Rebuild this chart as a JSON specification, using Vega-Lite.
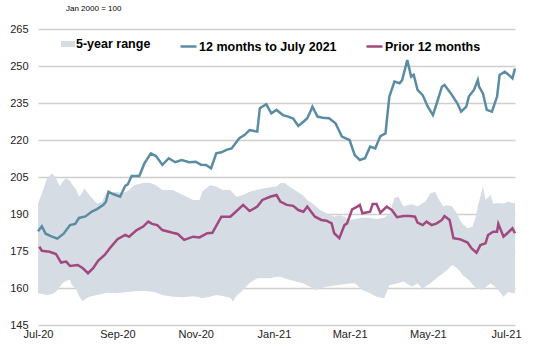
{
  "$schema": "https://vega.github.io/schema/vega-lite/v6.json",
  "width": 477,
  "height": 296,
  "autosize": {"type": "none"},
  "padding": {"left": 38, "top": 29, "right": 18, "bottom": 23},
  "background": "white",
  "title": {"text": "Jan 2000 = 100", "anchor": "start", "frame": "group", "dx": 28, "fontSize": 8, "fontWeight": "normal", "font": "Liberation Sans", "color": "#000000", "offset": 10},
  "config": {"view": {"stroke": null}, "font": "Liberation Sans"},
  "datasets": {
    "band": [
      {"date": "2020-07-01", "hi": 194.3, "lo": 157.9, "range": "5-year range"},
      {"date": "2020-07-05", "hi": 199.7, "lo": 157.5, "range": "5-year range"},
      {"date": "2020-07-08", "hi": 204.5, "lo": 157.2, "range": "5-year range"},
      {"date": "2020-07-12", "hi": 206.5, "lo": 157.6, "range": "5-year range"},
      {"date": "2020-07-15", "hi": 204.5, "lo": 158.5, "range": "5-year range"},
      {"date": "2020-07-18", "hi": 201.1, "lo": 160.5, "range": "5-year range"},
      {"date": "2020-07-20", "hi": 203.0, "lo": 161.9, "range": "5-year range"},
      {"date": "2020-07-23", "hi": 204.5, "lo": 162.8, "range": "5-year range"},
      {"date": "2020-07-26", "hi": 203.5, "lo": 163.3, "range": "5-year range"},
      {"date": "2020-07-27", "hi": 202.5, "lo": 161.5, "range": "5-year range"},
      {"date": "2020-07-31", "hi": 199.7, "lo": 159.2, "range": "5-year range"},
      {"date": "2020-08-02", "hi": 197.0, "lo": 156.8, "range": "5-year range"},
      {"date": "2020-08-05", "hi": 199.0, "lo": 154.5, "range": "5-year range"},
      {"date": "2020-08-06", "hi": 200.4, "lo": 155.2, "range": "5-year range"},
      {"date": "2020-08-10", "hi": 197.7, "lo": 156.5, "range": "5-year range"},
      {"date": "2020-08-16", "hi": 194.3, "lo": 157.2, "range": "5-year range"},
      {"date": "2020-08-20", "hi": 195.0, "lo": 157.6, "range": "5-year range"},
      {"date": "2020-08-23", "hi": 198.4, "lo": 158.1, "range": "5-year range"},
      {"date": "2020-08-31", "hi": 199.0, "lo": 157.9, "range": "5-year range"},
      {"date": "2020-09-05", "hi": 198.4, "lo": 158.2, "range": "5-year range"},
      {"date": "2020-09-10", "hi": 199.7, "lo": 158.5, "range": "5-year range"},
      {"date": "2020-09-14", "hi": 201.7, "lo": 158.7, "range": "5-year range"},
      {"date": "2020-09-21", "hi": 202.7, "lo": 158.9, "range": "5-year range"},
      {"date": "2020-09-26", "hi": 202.7, "lo": 158.6, "range": "5-year range"},
      {"date": "2020-10-01", "hi": 201.7, "lo": 158.2, "range": "5-year range"},
      {"date": "2020-10-06", "hi": 199.7, "lo": 157.2, "range": "5-year range"},
      {"date": "2020-10-14", "hi": 199.7, "lo": 156.5, "range": "5-year range"},
      {"date": "2020-10-22", "hi": 197.7, "lo": 156.3, "range": "5-year range"},
      {"date": "2020-10-30", "hi": 195.7, "lo": 156.7, "range": "5-year range"},
      {"date": "2020-11-04", "hi": 195.7, "lo": 156.2, "range": "5-year range"},
      {"date": "2020-11-06", "hi": 199.0, "lo": 155.8, "range": "5-year range"},
      {"date": "2020-11-12", "hi": 201.7, "lo": 156.5, "range": "5-year range"},
      {"date": "2020-11-17", "hi": 201.1, "lo": 157.2, "range": "5-year range"},
      {"date": "2020-11-22", "hi": 199.7, "lo": 156.8, "range": "5-year range"},
      {"date": "2020-11-28", "hi": 199.7, "lo": 156.0, "range": "5-year range"},
      {"date": "2020-11-30", "hi": 198.5, "lo": 154.5, "range": "5-year range"},
      {"date": "2020-12-03", "hi": 197.0, "lo": 157.0, "range": "5-year range"},
      {"date": "2020-12-08", "hi": 197.7, "lo": 159.2, "range": "5-year range"},
      {"date": "2020-12-13", "hi": 199.0, "lo": 162.0, "range": "5-year range"},
      {"date": "2020-12-19", "hi": 199.8, "lo": 164.0, "range": "5-year range"},
      {"date": "2020-12-21", "hi": 200.0, "lo": 164.0, "range": "5-year range"},
      {"date": "2020-12-26", "hi": 200.5, "lo": 164.0, "range": "5-year range"},
      {"date": "2020-12-29", "hi": 200.8, "lo": 164.0, "range": "5-year range"},
      {"date": "2021-01-03", "hi": 201.1, "lo": 164.6, "range": "5-year range"},
      {"date": "2021-01-06", "hi": 202.5, "lo": 164.6, "range": "5-year range"},
      {"date": "2021-01-09", "hi": 202.7, "lo": 164.0, "range": "5-year range"},
      {"date": "2021-01-13", "hi": 201.1, "lo": 163.3, "range": "5-year range"},
      {"date": "2021-01-21", "hi": 198.4, "lo": 162.2, "range": "5-year range"},
      {"date": "2021-01-24", "hi": 197.5, "lo": 161.9, "range": "5-year range"},
      {"date": "2021-01-27", "hi": 195.7, "lo": 161.0, "range": "5-year range"},
      {"date": "2021-01-31", "hi": 194.3, "lo": 160.0, "range": "5-year range"},
      {"date": "2021-02-03", "hi": 193.0, "lo": 159.2, "range": "5-year range"},
      {"date": "2021-02-06", "hi": 191.6, "lo": 159.8, "range": "5-year range"},
      {"date": "2021-02-11", "hi": 190.3, "lo": 160.5, "range": "5-year range"},
      {"date": "2021-02-17", "hi": 188.9, "lo": 161.0, "range": "5-year range"},
      {"date": "2021-02-21", "hi": 189.6, "lo": 161.3, "range": "5-year range"},
      {"date": "2021-02-25", "hi": 188.9, "lo": 161.5, "range": "5-year range"},
      {"date": "2021-03-01", "hi": 187.5, "lo": 161.8, "range": "5-year range"},
      {"date": "2021-03-05", "hi": 188.0, "lo": 161.9, "range": "5-year range"},
      {"date": "2021-03-11", "hi": 188.5, "lo": 159.2, "range": "5-year range"},
      {"date": "2021-03-17", "hi": 188.5, "lo": 157.9, "range": "5-year range"},
      {"date": "2021-03-22", "hi": 188.0, "lo": 156.5, "range": "5-year range"},
      {"date": "2021-03-28", "hi": 188.5, "lo": 155.8, "range": "5-year range"},
      {"date": "2021-04-01", "hi": 190.0, "lo": 161.1, "range": "5-year range"},
      {"date": "2021-04-05", "hi": 196.5, "lo": 161.6, "range": "5-year range"},
      {"date": "2021-04-08", "hi": 197.0, "lo": 161.9, "range": "5-year range"},
      {"date": "2021-04-12", "hi": 193.0, "lo": 162.6, "range": "5-year range"},
      {"date": "2021-04-17", "hi": 193.7, "lo": 161.0, "range": "5-year range"},
      {"date": "2021-04-19", "hi": 194.0, "lo": 160.5, "range": "5-year range"},
      {"date": "2021-04-23", "hi": 193.0, "lo": 161.9, "range": "5-year range"},
      {"date": "2021-04-27", "hi": 194.5, "lo": 159.5, "range": "5-year range"},
      {"date": "2021-04-29", "hi": 195.0, "lo": 160.5, "range": "5-year range"},
      {"date": "2021-05-03", "hi": 198.4, "lo": 161.9, "range": "5-year range"},
      {"date": "2021-05-07", "hi": 199.0, "lo": 163.5, "range": "5-year range"},
      {"date": "2021-05-09", "hi": 196.4, "lo": 164.6, "range": "5-year range"},
      {"date": "2021-05-13", "hi": 193.0, "lo": 166.0, "range": "5-year range"},
      {"date": "2021-05-16", "hi": 193.5, "lo": 167.3, "range": "5-year range"},
      {"date": "2021-05-20", "hi": 193.0, "lo": 169.3, "range": "5-year range"},
      {"date": "2021-05-24", "hi": 190.0, "lo": 168.0, "range": "5-year range"},
      {"date": "2021-05-26", "hi": 187.6, "lo": 166.8, "range": "5-year range"},
      {"date": "2021-05-28", "hi": 186.0, "lo": 165.3, "range": "5-year range"},
      {"date": "2021-06-01", "hi": 184.2, "lo": 163.8, "range": "5-year range"},
      {"date": "2021-06-03", "hi": 184.5, "lo": 162.6, "range": "5-year range"},
      {"date": "2021-06-05", "hi": 184.9, "lo": 161.3, "range": "5-year range"},
      {"date": "2021-06-08", "hi": 190.0, "lo": 159.9, "range": "5-year range"},
      {"date": "2021-06-09", "hi": 193.0, "lo": 159.7, "range": "5-year range"},
      {"date": "2021-06-13", "hi": 201.1, "lo": 159.2, "range": "5-year range"},
      {"date": "2021-06-15", "hi": 195.7, "lo": 160.3, "range": "5-year range"},
      {"date": "2021-06-19", "hi": 197.7, "lo": 161.9, "range": "5-year range"},
      {"date": "2021-06-21", "hi": 194.1, "lo": 161.0, "range": "5-year range"},
      {"date": "2021-06-24", "hi": 194.5, "lo": 159.9, "range": "5-year range"},
      {"date": "2021-06-29", "hi": 194.3, "lo": 156.5, "range": "5-year range"},
      {"date": "2021-07-03", "hi": 195.0, "lo": 158.5, "range": "5-year range"},
      {"date": "2021-07-06", "hi": 194.5, "lo": 157.9, "range": "5-year range"},
      {"date": "2021-07-08", "hi": 194.5, "lo": 158.0, "range": "5-year range"}
    ],
    "lines": [
      {"date": "2020-07-01", "value": 183.0, "series": "12 months to July 2021"},
      {"date": "2020-07-04", "value": 185.0, "series": "12 months to July 2021"},
      {"date": "2020-07-07", "value": 182.0, "series": "12 months to July 2021"},
      {"date": "2020-07-11", "value": 181.0, "series": "12 months to July 2021"},
      {"date": "2020-07-16", "value": 180.0, "series": "12 months to July 2021"},
      {"date": "2020-07-21", "value": 182.0, "series": "12 months to July 2021"},
      {"date": "2020-07-26", "value": 185.5, "series": "12 months to July 2021"},
      {"date": "2020-07-30", "value": 186.0, "series": "12 months to July 2021"},
      {"date": "2020-08-02", "value": 188.4, "series": "12 months to July 2021"},
      {"date": "2020-08-07", "value": 189.0, "series": "12 months to July 2021"},
      {"date": "2020-08-12", "value": 191.0, "series": "12 months to July 2021"},
      {"date": "2020-08-16", "value": 192.0, "series": "12 months to July 2021"},
      {"date": "2020-08-21", "value": 193.7, "series": "12 months to July 2021"},
      {"date": "2020-08-23", "value": 195.0, "series": "12 months to July 2021"},
      {"date": "2020-08-25", "value": 199.0, "series": "12 months to July 2021"},
      {"date": "2020-08-29", "value": 198.0, "series": "12 months to July 2021"},
      {"date": "2020-09-03", "value": 197.0, "series": "12 months to July 2021"},
      {"date": "2020-09-07", "value": 201.4, "series": "12 months to July 2021"},
      {"date": "2020-09-09", "value": 202.0, "series": "12 months to July 2021"},
      {"date": "2020-09-12", "value": 205.4, "series": "12 months to July 2021"},
      {"date": "2020-09-18", "value": 205.4, "series": "12 months to July 2021"},
      {"date": "2020-09-22", "value": 210.5, "series": "12 months to July 2021"},
      {"date": "2020-09-27", "value": 214.6, "series": "12 months to July 2021"},
      {"date": "2020-10-01", "value": 213.5, "series": "12 months to July 2021"},
      {"date": "2020-10-06", "value": 209.9, "series": "12 months to July 2021"},
      {"date": "2020-10-11", "value": 212.6, "series": "12 months to July 2021"},
      {"date": "2020-10-16", "value": 211.0, "series": "12 months to July 2021"},
      {"date": "2020-10-21", "value": 211.9, "series": "12 months to July 2021"},
      {"date": "2020-10-27", "value": 211.0, "series": "12 months to July 2021"},
      {"date": "2020-11-01", "value": 211.2, "series": "12 months to July 2021"},
      {"date": "2020-11-05", "value": 210.0, "series": "12 months to July 2021"},
      {"date": "2020-11-09", "value": 209.9, "series": "12 months to July 2021"},
      {"date": "2020-11-13", "value": 208.5, "series": "12 months to July 2021"},
      {"date": "2020-11-17", "value": 214.6, "series": "12 months to July 2021"},
      {"date": "2020-11-21", "value": 215.0, "series": "12 months to July 2021"},
      {"date": "2020-11-25", "value": 216.0, "series": "12 months to July 2021"},
      {"date": "2020-11-29", "value": 216.6, "series": "12 months to July 2021"},
      {"date": "2020-12-05", "value": 220.7, "series": "12 months to July 2021"},
      {"date": "2020-12-09", "value": 222.0, "series": "12 months to July 2021"},
      {"date": "2020-12-13", "value": 224.0, "series": "12 months to July 2021"},
      {"date": "2020-12-19", "value": 223.4, "series": "12 months to July 2021"},
      {"date": "2020-12-21", "value": 232.9, "series": "12 months to July 2021"},
      {"date": "2020-12-26", "value": 234.5, "series": "12 months to July 2021"},
      {"date": "2020-12-30", "value": 230.8, "series": "12 months to July 2021"},
      {"date": "2021-01-03", "value": 232.2, "series": "12 months to July 2021"},
      {"date": "2021-01-08", "value": 230.1, "series": "12 months to July 2021"},
      {"date": "2021-01-12", "value": 229.5, "series": "12 months to July 2021"},
      {"date": "2021-01-16", "value": 228.7, "series": "12 months to July 2021"},
      {"date": "2021-01-20", "value": 225.7, "series": "12 months to July 2021"},
      {"date": "2021-01-24", "value": 227.4, "series": "12 months to July 2021"},
      {"date": "2021-01-27", "value": 228.8, "series": "12 months to July 2021"},
      {"date": "2021-01-29", "value": 231.0, "series": "12 months to July 2021"},
      {"date": "2021-01-31", "value": 233.5, "series": "12 months to July 2021"},
      {"date": "2021-02-04", "value": 229.5, "series": "12 months to July 2021"},
      {"date": "2021-02-08", "value": 229.0, "series": "12 months to July 2021"},
      {"date": "2021-02-13", "value": 228.8, "series": "12 months to July 2021"},
      {"date": "2021-02-18", "value": 226.8, "series": "12 months to July 2021"},
      {"date": "2021-02-23", "value": 221.4, "series": "12 months to July 2021"},
      {"date": "2021-03-01", "value": 220.0, "series": "12 months to July 2021"},
      {"date": "2021-03-05", "value": 213.9, "series": "12 months to July 2021"},
      {"date": "2021-03-09", "value": 211.9, "series": "12 months to July 2021"},
      {"date": "2021-03-13", "value": 212.6, "series": "12 months to July 2021"},
      {"date": "2021-03-17", "value": 217.3, "series": "12 months to July 2021"},
      {"date": "2021-03-21", "value": 216.6, "series": "12 months to July 2021"},
      {"date": "2021-03-25", "value": 221.6, "series": "12 months to July 2021"},
      {"date": "2021-03-29", "value": 222.7, "series": "12 months to July 2021"},
      {"date": "2021-04-01", "value": 237.6, "series": "12 months to July 2021"},
      {"date": "2021-04-05", "value": 243.7, "series": "12 months to July 2021"},
      {"date": "2021-04-09", "value": 243.0, "series": "12 months to July 2021"},
      {"date": "2021-04-11", "value": 244.3, "series": "12 months to July 2021"},
      {"date": "2021-04-15", "value": 252.4, "series": "12 months to July 2021"},
      {"date": "2021-04-18", "value": 245.7, "series": "12 months to July 2021"},
      {"date": "2021-04-20", "value": 246.4, "series": "12 months to July 2021"},
      {"date": "2021-04-23", "value": 240.3, "series": "12 months to July 2021"},
      {"date": "2021-04-27", "value": 238.2, "series": "12 months to July 2021"},
      {"date": "2021-05-01", "value": 233.5, "series": "12 months to July 2021"},
      {"date": "2021-05-05", "value": 230.1, "series": "12 months to July 2021"},
      {"date": "2021-05-08", "value": 234.9, "series": "12 months to July 2021"},
      {"date": "2021-05-12", "value": 241.6, "series": "12 months to July 2021"},
      {"date": "2021-05-14", "value": 242.3, "series": "12 months to July 2021"},
      {"date": "2021-05-19", "value": 238.9, "series": "12 months to July 2021"},
      {"date": "2021-05-24", "value": 234.9, "series": "12 months to July 2021"},
      {"date": "2021-05-27", "value": 231.5, "series": "12 months to July 2021"},
      {"date": "2021-05-31", "value": 233.5, "series": "12 months to July 2021"},
      {"date": "2021-06-02", "value": 237.6, "series": "12 months to July 2021"},
      {"date": "2021-06-06", "value": 240.3, "series": "12 months to July 2021"},
      {"date": "2021-06-09", "value": 244.3, "series": "12 months to July 2021"},
      {"date": "2021-06-10", "value": 241.6, "series": "12 months to July 2021"},
      {"date": "2021-06-13", "value": 238.9, "series": "12 months to July 2021"},
      {"date": "2021-06-16", "value": 232.2, "series": "12 months to July 2021"},
      {"date": "2021-06-20", "value": 231.5, "series": "12 months to July 2021"},
      {"date": "2021-06-24", "value": 237.6, "series": "12 months to July 2021"},
      {"date": "2021-06-26", "value": 246.4, "series": "12 months to July 2021"},
      {"date": "2021-06-30", "value": 247.7, "series": "12 months to July 2021"},
      {"date": "2021-07-04", "value": 246.0, "series": "12 months to July 2021"},
      {"date": "2021-07-06", "value": 245.0, "series": "12 months to July 2021"},
      {"date": "2021-07-08", "value": 249.0, "series": "12 months to July 2021"},
      {"date": "2020-07-02", "value": 176.8, "series": "Prior 12 months"},
      {"date": "2020-07-04", "value": 175.1, "series": "Prior 12 months"},
      {"date": "2020-07-10", "value": 174.7, "series": "Prior 12 months"},
      {"date": "2020-07-15", "value": 173.8, "series": "Prior 12 months"},
      {"date": "2020-07-19", "value": 170.3, "series": "Prior 12 months"},
      {"date": "2020-07-23", "value": 170.7, "series": "Prior 12 months"},
      {"date": "2020-07-26", "value": 168.9, "series": "Prior 12 months"},
      {"date": "2020-08-01", "value": 169.3, "series": "Prior 12 months"},
      {"date": "2020-08-05", "value": 168.0, "series": "Prior 12 months"},
      {"date": "2020-08-09", "value": 166.0, "series": "Prior 12 months"},
      {"date": "2020-08-13", "value": 168.0, "series": "Prior 12 months"},
      {"date": "2020-08-17", "value": 171.1, "series": "Prior 12 months"},
      {"date": "2020-08-22", "value": 173.4, "series": "Prior 12 months"},
      {"date": "2020-08-26", "value": 176.1, "series": "Prior 12 months"},
      {"date": "2020-09-01", "value": 179.8, "series": "Prior 12 months"},
      {"date": "2020-09-07", "value": 181.5, "series": "Prior 12 months"},
      {"date": "2020-09-10", "value": 180.8, "series": "Prior 12 months"},
      {"date": "2020-09-16", "value": 183.5, "series": "Prior 12 months"},
      {"date": "2020-09-21", "value": 184.9, "series": "Prior 12 months"},
      {"date": "2020-09-25", "value": 186.9, "series": "Prior 12 months"},
      {"date": "2020-09-28", "value": 186.0, "series": "Prior 12 months"},
      {"date": "2020-10-02", "value": 185.5, "series": "Prior 12 months"},
      {"date": "2020-10-06", "value": 183.5, "series": "Prior 12 months"},
      {"date": "2020-10-14", "value": 182.4, "series": "Prior 12 months"},
      {"date": "2020-10-18", "value": 181.9, "series": "Prior 12 months"},
      {"date": "2020-10-23", "value": 179.5, "series": "Prior 12 months"},
      {"date": "2020-10-30", "value": 180.8, "series": "Prior 12 months"},
      {"date": "2020-11-04", "value": 180.5, "series": "Prior 12 months"},
      {"date": "2020-11-10", "value": 182.2, "series": "Prior 12 months"},
      {"date": "2020-11-14", "value": 182.4, "series": "Prior 12 months"},
      {"date": "2020-11-21", "value": 188.9, "series": "Prior 12 months"},
      {"date": "2020-11-28", "value": 188.9, "series": "Prior 12 months"},
      {"date": "2020-12-01", "value": 190.3, "series": "Prior 12 months"},
      {"date": "2020-12-08", "value": 193.7, "series": "Prior 12 months"},
      {"date": "2020-12-13", "value": 191.2, "series": "Prior 12 months"},
      {"date": "2020-12-19", "value": 193.0, "series": "Prior 12 months"},
      {"date": "2020-12-23", "value": 195.7, "series": "Prior 12 months"},
      {"date": "2020-12-29", "value": 197.0, "series": "Prior 12 months"},
      {"date": "2021-01-03", "value": 197.7, "series": "Prior 12 months"},
      {"date": "2021-01-06", "value": 195.0, "series": "Prior 12 months"},
      {"date": "2021-01-11", "value": 193.7, "series": "Prior 12 months"},
      {"date": "2021-01-16", "value": 193.3, "series": "Prior 12 months"},
      {"date": "2021-01-20", "value": 191.6, "series": "Prior 12 months"},
      {"date": "2021-01-24", "value": 190.9, "series": "Prior 12 months"},
      {"date": "2021-01-27", "value": 193.0, "series": "Prior 12 months"},
      {"date": "2021-01-30", "value": 190.9, "series": "Prior 12 months"},
      {"date": "2021-02-02", "value": 188.9, "series": "Prior 12 months"},
      {"date": "2021-02-07", "value": 187.6, "series": "Prior 12 months"},
      {"date": "2021-02-11", "value": 187.3, "series": "Prior 12 months"},
      {"date": "2021-02-15", "value": 186.2, "series": "Prior 12 months"},
      {"date": "2021-02-17", "value": 182.2, "series": "Prior 12 months"},
      {"date": "2021-02-21", "value": 180.2, "series": "Prior 12 months"},
      {"date": "2021-02-25", "value": 185.5, "series": "Prior 12 months"},
      {"date": "2021-02-27", "value": 186.2, "series": "Prior 12 months"},
      {"date": "2021-03-03", "value": 191.9, "series": "Prior 12 months"},
      {"date": "2021-03-07", "value": 193.0, "series": "Prior 12 months"},
      {"date": "2021-03-09", "value": 193.7, "series": "Prior 12 months"},
      {"date": "2021-03-11", "value": 190.3, "series": "Prior 12 months"},
      {"date": "2021-03-17", "value": 190.9, "series": "Prior 12 months"},
      {"date": "2021-03-19", "value": 194.1, "series": "Prior 12 months"},
      {"date": "2021-03-22", "value": 194.1, "series": "Prior 12 months"},
      {"date": "2021-03-25", "value": 190.5, "series": "Prior 12 months"},
      {"date": "2021-03-30", "value": 193.0, "series": "Prior 12 months"},
      {"date": "2021-04-03", "value": 191.6, "series": "Prior 12 months"},
      {"date": "2021-04-07", "value": 188.7, "series": "Prior 12 months"},
      {"date": "2021-04-12", "value": 189.2, "series": "Prior 12 months"},
      {"date": "2021-04-17", "value": 189.2, "series": "Prior 12 months"},
      {"date": "2021-04-21", "value": 188.9, "series": "Prior 12 months"},
      {"date": "2021-04-23", "value": 186.5, "series": "Prior 12 months"},
      {"date": "2021-04-27", "value": 185.5, "series": "Prior 12 months"},
      {"date": "2021-04-30", "value": 186.9, "series": "Prior 12 months"},
      {"date": "2021-05-04", "value": 185.5, "series": "Prior 12 months"},
      {"date": "2021-05-08", "value": 186.2, "series": "Prior 12 months"},
      {"date": "2021-05-12", "value": 187.6, "series": "Prior 12 months"},
      {"date": "2021-05-14", "value": 189.2, "series": "Prior 12 months"},
      {"date": "2021-05-18", "value": 187.6, "series": "Prior 12 months"},
      {"date": "2021-05-21", "value": 180.2, "series": "Prior 12 months"},
      {"date": "2021-05-26", "value": 179.8, "series": "Prior 12 months"},
      {"date": "2021-06-01", "value": 178.4, "series": "Prior 12 months"},
      {"date": "2021-06-04", "value": 176.1, "series": "Prior 12 months"},
      {"date": "2021-06-08", "value": 174.3, "series": "Prior 12 months"},
      {"date": "2021-06-11", "value": 177.4, "series": "Prior 12 months"},
      {"date": "2021-06-15", "value": 178.1, "series": "Prior 12 months"},
      {"date": "2021-06-17", "value": 181.5, "series": "Prior 12 months"},
      {"date": "2021-06-21", "value": 182.8, "series": "Prior 12 months"},
      {"date": "2021-06-24", "value": 182.8, "series": "Prior 12 months"},
      {"date": "2021-06-25", "value": 186.0, "series": "Prior 12 months"},
      {"date": "2021-06-29", "value": 180.8, "series": "Prior 12 months"},
      {"date": "2021-07-02", "value": 182.2, "series": "Prior 12 months"},
      {"date": "2021-07-06", "value": 184.2, "series": "Prior 12 months"},
      {"date": "2021-07-08", "value": 182.2, "series": "Prior 12 months"}
    ]
  },
  "layer": [
    {
      "data": {"name": "band"},
      "mark": {"type": "area", "opacity": 1},
      "encoding": {
        "x": {
          "field": "date", "type": "temporal",
          "scale": {"type": "utc", "domain": [{"year": 2020, "month": 7, "date": 1, "utc": true}, {"year": 2021, "month": 7, "date": 8, "utc": true}]},
          "axis": {
            "title": null,
            "values": [
              {"year": 2020, "month": 7, "date": 1, "utc": true},
              {"year": 2020, "month": 9, "date": 1, "utc": true},
              {"year": 2020, "month": 11, "date": 1, "utc": true},
              {"year": 2021, "month": 1, "date": 1, "utc": true},
              {"year": 2021, "month": 3, "date": 1, "utc": true},
              {"year": 2021, "month": 5, "date": 1, "utc": true},
              {"year": 2021, "month": 7, "date": 1, "utc": true}
            ],
            "format": "%b-%y",
            "grid": false, "domain": false, "ticks": false,
            "labelPadding": 3, "labelFontSize": 11, "labelFont": "Liberation Sans",
            "labelColor": "#222222", "labelOverlap": false, "labelFlush": false
          }
        },
        "y": {
          "field": "lo", "type": "quantitative",
          "scale": {"domain": [145, 265], "nice": false, "zero": false},
          "axis": {
            "title": null,
            "values": [145, 160, 175, 190, 205, 220, 235, 250, 265],
            "grid": true, "gridColor": "#CFCFCF", "gridWidth": 1.5,
            "domain": false, "ticks": false, "labelPadding": 10, "labelOverlap": false,
            "labelFontSize": 11, "labelFont": "Liberation Sans", "labelColor": "#222222"
          }
        },
        "y2": {"field": "hi"},
        "fill": {
          "field": "range", "type": "nominal",
          "scale": {"domain": ["5-year range"], "range": ["#D6DCE4"]},
          "legend": {
            "orient": "none", "legendX": 23, "legendY": 8, "direction": "horizontal",
            "title": null, "padding": 0,
            "symbolType": "M-1,-0.43H1V0.43H-1Z", "symbolSize": 196, "symbolStrokeWidth": 0,
            "labelFontSize": 12.5, "labelFontWeight": "bold", "labelFont": "Liberation Sans",
            "labelColor": "#000000", "labelOffset": 1, "labelLimit": 300
          }
        }
      }
    },
    {
      "data": {"name": "lines"},
      "mark": {"type": "line", "strokeWidth": 2.5},
      "encoding": {
        "x": {
          "field": "date", "type": "temporal",
          "axis": {
            "title": null,
            "values": [
              {"year": 2020, "month": 7, "date": 1, "utc": true},
              {"year": 2020, "month": 9, "date": 1, "utc": true},
              {"year": 2020, "month": 11, "date": 1, "utc": true},
              {"year": 2021, "month": 1, "date": 1, "utc": true},
              {"year": 2021, "month": 3, "date": 1, "utc": true},
              {"year": 2021, "month": 5, "date": 1, "utc": true},
              {"year": 2021, "month": 7, "date": 1, "utc": true}
            ],
            "format": "%b-%y",
            "grid": false, "domain": false, "ticks": false,
            "labelPadding": 3, "labelFontSize": 11, "labelFont": "Liberation Sans",
            "labelColor": "#222222", "labelOverlap": false, "labelFlush": false
          }
        },
        "y": {
          "field": "value", "type": "quantitative",
          "axis": {
            "title": null,
            "values": [145, 160, 175, 190, 205, 220, 235, 250, 265],
            "grid": true, "gridColor": "#CFCFCF", "gridWidth": 1.5,
            "domain": false, "ticks": false, "labelPadding": 10, "labelOverlap": false,
            "labelFontSize": 11, "labelFont": "Liberation Sans", "labelColor": "#222222"
          }
        },
        "stroke": {
          "field": "series", "type": "nominal",
          "scale": {"domain": ["12 months to July 2021", "Prior 12 months"], "range": ["#5A8CA3", "#A0487F"]},
          "legend": {
            "orient": "none", "legendX": 141, "legendY": 8, "direction": "horizontal",
            "title": null, "padding": 0, "columnPadding": 24,
            "symbolType": "stroke", "symbolSize": 256, "symbolStrokeWidth": 2.5,
            "labelFontSize": 12.5, "labelFontWeight": "bold", "labelFont": "Liberation Sans",
            "labelColor": "#000000", "labelOffset": 1, "labelLimit": 300
          }
        }
      }
    }
  ]
}
